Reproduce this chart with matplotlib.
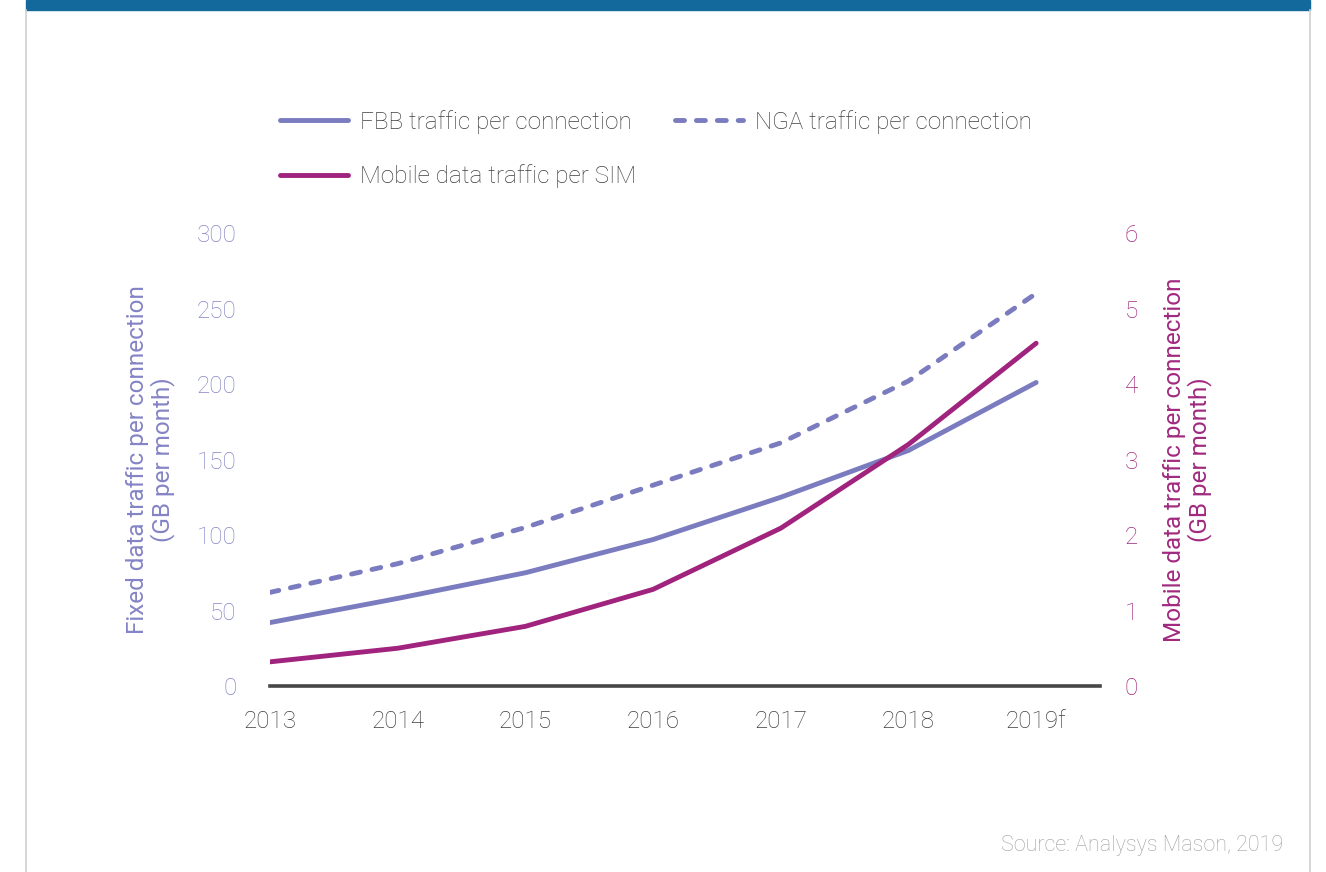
import matplotlib
matplotlib.use("Agg")
import matplotlib.pyplot as plt
from matplotlib.lines import Line2D

plt.rcParams['font.family'] = ['Roboto', 'DejaVu Sans']
plt.rcParams['font.weight'] = 'light'

# traffic per connection / SIM, GB per month
years = ['2013', '2014', '2015', '2016', '2017', '2018', '2019f']
fbb = [42, 58, 75, 97, 125, 156, 201]
nga = [62, 81, 105, 133, 161, 202, 260]
mobile = [0.32, 0.50, 0.79, 1.28, 2.09, 3.20, 4.54]

left_ticks = [0, 50, 100, 150, 200, 250, 300]
right_ticks = [0, 1, 2, 3, 4, 5, 6]

purple = '#7b7bc0'
magenta = '#a0237d'
left_tick_col = '#8484c6'
right_tick_col = '#a02a7e'
grey_txt = '#3e3e3e'
fs = 17.5
lw = 3.5

W, H = 1326, 872
fig = plt.figure(figsize=(W / 100, H / 100), dpi=100)

# header band and side rules
fig.add_artist(plt.Rectangle((26 / W, 1 - 10 / H), (1310 - 26) / W, 10 / H,
                             transform=fig.transFigure, color='#13689c', zorder=0))
for xp in (26, 1310):
    fig.add_artist(Line2D([xp / W, xp / W], [0, 1 - 10 / H], transform=fig.transFigure,
                          color='#cfcfcf', lw=1.2))

ax = fig.add_axes([270 / W, 1 - 686 / H, (1100 - 270) / W, (686 - 233) / H])
x = list(range(len(years)))

l1, = ax.plot(x, fbb, color=purple, lw=lw, solid_capstyle='round',
              label='FBB traffic per connection')
l2, = ax.plot(x, nga, color=purple, lw=lw, dashes=(1.85, 2.45), dash_capstyle='round',
              label='NGA traffic per connection')
ax.set_xlim(0, 6.5)
ax.set_ylim(0, 300)
ax.set_yticks(left_ticks)
ax.set_xticks(x)
ax.set_xticklabels(years)

ax2 = ax.twinx()
l3, = ax2.plot(x, mobile, color=magenta, lw=lw, solid_capstyle='round',
               label='Mobile data traffic per SIM')
ax2.set_ylim(0, 6)
ax2.set_yticks(right_ticks)

for a in (ax, ax2):
    for s in ('top', 'left', 'right', 'bottom'):
        a.spines[s].set_visible(False)
    a.tick_params(length=0)
ax.axhline(0, color='#474747', lw=2.6, clip_on=False, zorder=1)

ax.tick_params(axis='y', labelsize=fs, labelcolor=left_tick_col, pad=24)
ax.tick_params(axis='x', labelsize=fs, labelcolor=grey_txt, pad=17)
ax2.tick_params(axis='y', labelsize=fs, labelcolor=right_tick_col, pad=18)

ax.set_ylabel('Fixed data traffic per connection\n(GB per month)', fontsize=fs,
              color=left_tick_col, labelpad=16, linespacing=1.05)
ax2.set_ylabel('Mobile data traffic per connection\n(GB per month)', fontsize=fs,
               color=right_tick_col, labelpad=18, rotation=90, linespacing=1.05)

fig.legend(handles=[l1, l3, l2], ncol=2, loc='upper left',
           bbox_to_anchor=(258 / W, 1 - 88 / H), frameon=False,
           fontsize=fs, handlelength=2.8, handletextpad=0.5,
           columnspacing=1.6, labelspacing=1.25, labelcolor=grey_txt)

fig.text(1283 / W, 1 - 845 / H, 'Source: Analysys Mason, 2019', ha='right', va='center',
         fontsize=15.5, color='#a0a0a0')

fig.savefig('out.png', dpi=100)
